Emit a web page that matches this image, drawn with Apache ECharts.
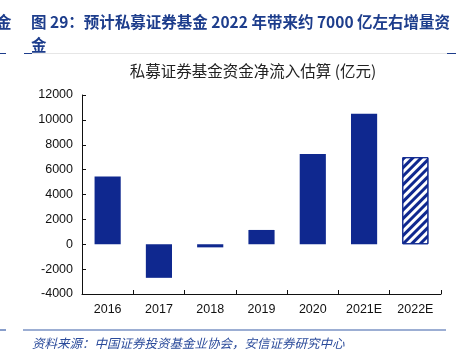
<!DOCTYPE html>
<html lang="zh">
<head>
    <meta charset="UTF-8">
    <script src="https://cdn.jsdelivr.net/npm/echarts@6/dist/echarts.min.js"></script>
    <style>
        html, body { margin: 0; padding: 0; background: #fff; }
        #container { width: 466px; height: 351px; }
    </style>
</head>
<body>
<div id="container"></div>
<script type="application/javascript">
    const years = ['2016', '2017', '2018', '2019', '2020', '2021E', '2022E'];
    const inflow = [5450, -2700, -250, 1150, 7250, 10500, 7000];
    const estimateFrom = 6; // 2022E drawn hatched

    const blue = '#0f288f';
    const myChart = echarts.init(document.getElementById('container'), null, {renderer: 'canvas'});

    let data = inflow.map(function (v, i) {
        if (i < estimateFrom) return v;
        return {
            value: v,
            itemStyle: {
                color: '#ffffff',
                borderColor: blue,
                borderWidth: 1,
                decal: {
                    symbol: 'rect',
                    symbolSize: 1,
                    color: blue,
                    dashArrayX: [1, 0],
                    dashArrayY: [2.5, 2.5],
                    rotation: -Math.PI / 4
                }
            }
        };
    });

    const headStyle = {fontSize: 15.5, fontWeight: 'bold', color: '#1d3d8c', fontFamily: 'Noto Sans CJK SC'};

    const option = {
        animation: false,
        title: [
            {text: '图 29：预计私募证券基金 2022 年带来约 7000 亿左右增量资', left: 26, top: 9, textStyle: headStyle},
            {text: '金', left: 26, top: 32, textStyle: headStyle},
            {text: '金', left: -9, top: 9, textStyle: headStyle},
            {
                text: '私募证券基金资金净流入估算 (亿元)',
                left: 248, top: 58, textAlign: 'center',
                textStyle: {fontSize: 15.5, fontWeight: 'normal', color: '#222', fontFamily: 'Noto Sans CJK SC'}
            },
            {
                text: '资料来源：中国证券投资基金业协会，安信证券研究中心',
                left: 27, top: 332,
                textStyle: {fontSize: 12.5, fontWeight: 'normal', fontStyle: 'italic', color: '#2a4a9a', fontFamily: 'Noto Sans CJK SC'}
            }
        ],
        graphic: [
            {type: 'line', shape: {x1: 24, y1: 53.5, x2: 456, y2: 53.5}, style: {stroke: '#e6e6e6', lineWidth: 1}},
            {type: 'line', shape: {x1: 24, y1: 53.5, x2: 32, y2: 53.5}, style: {stroke: '#1d3d8c', lineWidth: 1}},
            {type: 'line', shape: {x1: 447, y1: 53.5, x2: 456, y2: 53.5}, style: {stroke: '#1d3d8c', lineWidth: 1}},
            {type: 'line', shape: {x1: 0, y1: 53.5, x2: 6, y2: 53.5}, style: {stroke: '#1d3d8c', lineWidth: 1}},
            {type: 'line', shape: {x1: 23, y1: 330, x2: 446, y2: 330}, style: {stroke: '#3a5ea8', lineWidth: 1.2}},
            {type: 'line', shape: {x1: 0, y1: 330, x2: 6, y2: 330}, style: {stroke: '#3a5ea8', lineWidth: 1.2}}
        ],
        grid: {left: 82, right: 25, top: 95, bottom: 57},
        xAxis: [
            {
                type: 'category',
                data: years,
                position: 'bottom',
                axisLine: {show: false},
                axisTick: {show: false},
                axisLabel: {color: '#111', fontSize: 12.5, fontFamily: 'Liberation Sans', margin: 9}
            },
            {
                type: 'category',
                data: years,
                position: 'bottom',
                axisLine: {show: true, onZero: true, lineStyle: {color: '#111', width: 1}},
                axisTick: {show: true, inside: true, length: 4, lineStyle: {color: '#111'}},
                axisLabel: {show: false}
            }
        ],
        yAxis: {
            type: 'value',
            min: -4000,
            max: 12000,
            interval: 2000,
            splitLine: {show: false},
            axisLine: {show: true, lineStyle: {color: '#111', width: 1}},
            axisTick: {show: true, inside: true, length: 4, lineStyle: {color: '#111'}},
            axisLabel: {
                color: '#111', fontSize: 12.5, fontFamily: 'Liberation Sans', margin: 9,
                formatter: function (v) { return String(v); }
            }
        },
        series: [
            {
                name: '净流入',
                type: 'bar',
                xAxisIndex: 0,
                barWidth: '51%',
                itemStyle: {color: blue},
                data: data
            }
        ]
    };
    myChart.setOption(option);
</script>
</body>
</html>
